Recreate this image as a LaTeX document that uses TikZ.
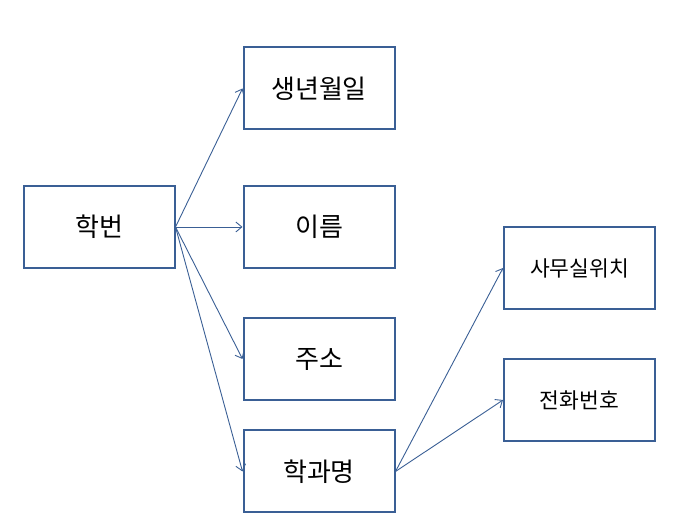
\documentclass[tikz,border=0pt]{standalone}
\usepackage{fontspec}
\setmainfont{Noto Sans CJK KR}
\usetikzlibrary{arrows.meta}
\definecolor{boxblue}{HTML}{3A5F95}
\begin{document}
\begin{tikzpicture}[x=1pt,y=1pt,
  entity/.style={draw=boxblue,line width=2pt,minimum width=151pt,minimum height=82pt,inner sep=0pt,font=\fontsize{26}{28}\selectfont},
  small/.style={entity,font=\fontsize{21.5}{24}\selectfont},
  link/.style={draw=boxblue,line width=0.9pt,-{Straight Barb[length=6pt,width=10pt,line width=0.9pt]}}]
\useasboundingbox (0,0) rectangle (683,526);
\node[entity] (hb) at (99,299) {학번};
\node[entity] (bd) at (319,437.5) {생년월일};
\node[entity] (nm) at (319,299) {이름};
\node[entity] (ad) at (319,167) {주소};
\node[entity] (dp) at (319,54.5) {학과명};
\node[small] (of) at (579.5,258) {사무실위치};
\node[small] (ph) at (579.5,126) {전화번호};
\draw[link] (hb.east) -- (bd.west);
\draw[link] (hb.east) -- (nm.west);
\draw[link] (hb.east) -- (ad.west);
\draw[link] (hb.east) -- (dp.west);
\draw[link] (dp.east) -- (of.west);
\draw[link] (dp.east) -- (ph.west);
\end{tikzpicture}
\end{document}
